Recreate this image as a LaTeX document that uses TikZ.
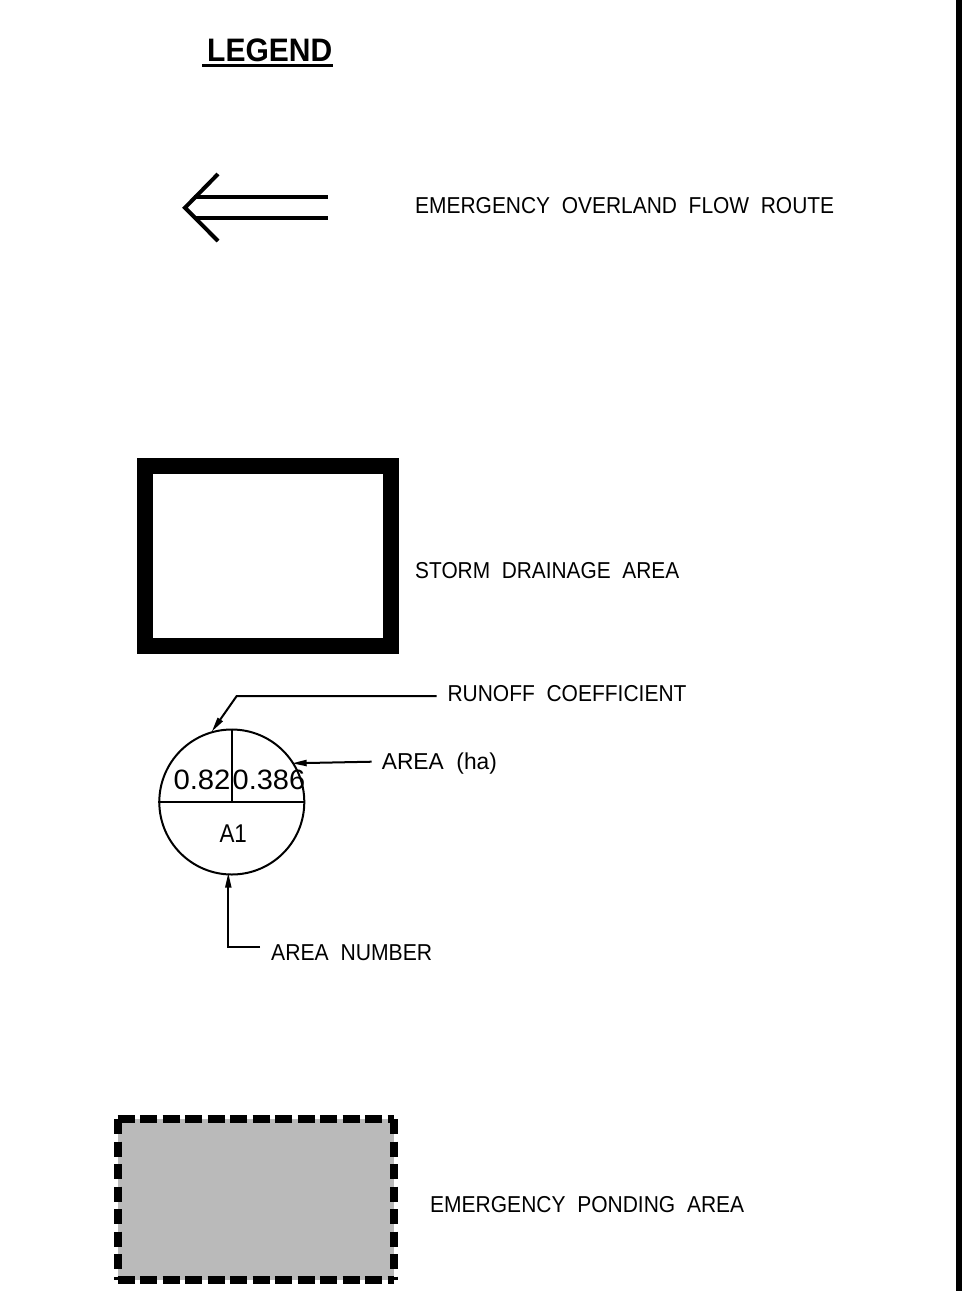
\documentclass[tikz,border=0pt]{standalone}
\usepackage{fontspec}
\setmainfont{Liberation Sans}
\usetikzlibrary{arrows.meta}
\definecolor{pondgray}{HTML}{BABABA}
\newcommand{\cadfit}[2]{\resizebox{#1}{\height}{#2}}
\begin{document}
\begin{tikzpicture}[x=1pt,y=-1pt,
  lbl/.style={anchor=base west, inner sep=0pt, font=\fontsize{23}{23}\selectfont},
  numlbl/.style={anchor=base west, inner sep=0pt, font=\fontsize{28}{28}\selectfont},
  thinline/.style={line width=2pt},
  leader/.style={line width=2pt, -{Triangle[length=15pt,width=6pt]}},
  flowline/.style={line width=4pt}]
\fill[white] (0,0) rectangle (970,1291);
\useasboundingbox (0,0) rectangle (970,1291);
% right border bar
\fill[black] (955.7,0) rectangle (962.3,1291);
% title
\node[anchor=base west, inner sep=0pt, font=\bfseries\fontsize{32.5}{32.5}\selectfont] (legend) at (207,61.7) {\cadfit{125pt}{LEGEND}};
\draw[line width=3pt] ([xshift=-5pt,yshift=-3.3pt]legend.south west) -- ([xshift=1pt,yshift=-3.3pt]legend.south east);
% overland flow arrow
\coordinate (fTip) at (185,207.7);
\coordinate (fBarbU) at (218,174);
\coordinate (fBarbL) at (218,241);
\coordinate (fU1) at (194.4,196.7);
\coordinate (fU2) at (327.7,196.7);
\coordinate (fL1) at (194,218.3);
\coordinate (fL2) at (327.7,218.3);
\draw[flowline] (fBarbU) -- (fTip) -- (fBarbL);
\draw[flowline] (fU1) -- (fU2);
\draw[flowline] (fL1) -- (fL2);
\node[lbl] (tFlow) at (415,213) {\cadfit{419pt}{EMERGENCY\ \ OVERLAND\ \ FLOW\ \ ROUTE}};
% storm drainage area
\draw[line width=16pt] (145,466.3) rectangle (391.3,646.3);
\node[lbl] (tStorm) at (415,578.5) {\cadfit{264pt}{STORM\ \ DRAINAGE\ \ AREA}};
% bubble
\node[circle, draw, line width=2pt, minimum size=145pt, inner sep=0pt] (bub) at (231.8,802) {};
\draw[thinline] (bub.west) -- (bub.east);
\draw[thinline] (bub.north) -- (bub.center);
\node[numlbl] (tC) at (173.3,789.3) {\cadfit{57pt}{0.82}};
\node[numlbl] (tArea) at (232.5,789.3) {\cadfit{72.5pt}{0.386}};
\node[anchor=base west, inner sep=0pt, font=\fontsize{25.7}{25.7}\selectfont] (tA1) at (219.3,842.7) {\cadfit{27.4pt}{A1}};
% leaders
\coordinate (rc1) at (436.7,696);
\coordinate (rc2) at (236.7,696);
\coordinate (rcTip) at (211.7,731.7);
\draw[leader] (rc1) -- (rc2) -- (rcTip);
\node[lbl] (tRunoff) at (447.3,701) {\cadfit{239pt}{RUNOFF\ \ COEFFICIENT}};
\coordinate (ha1) at (371.7,761.7);
\coordinate (haTip) at (291.7,763.3);
\draw[leader] (ha1) -- (haTip);
\node[lbl] (tHa) at (381.7,769.5) {\cadfit{115pt}{AREA\ \ (ha)}};
\coordinate (an1) at (260,946.7);
\coordinate (an2) at (228.3,946.7);
\coordinate (anTip) at (228.3,872.7);
\draw[leader] (an1) -- (an2) -- (anTip);
\node[lbl] (tNum) at (271,960.5) {\cadfit{161pt}{AREA\ \ NUMBER}};
% ponding area
\fill[pondgray] (117.5,1119) rectangle (393.5,1280);
\draw[line width=8pt, dash pattern=on 17pt off 5.5pt] (117.5,1119) -- (393.5,1119);
\draw[line width=8pt, dash pattern=on 17pt off 5.5pt] (117.5,1280) -- (393.5,1280);
\draw[line width=8pt, dash pattern=on 15pt off 7.5pt] (117.5,1119) -- (117.5,1280);
\draw[line width=8pt, dash pattern=on 15pt off 7.5pt] (393.5,1119) -- (393.5,1280);
\node[lbl] (tPond) at (430,1212.7) {\cadfit{314pt}{EMERGENCY\ \ PONDING\ \ AREA}};
\end{tikzpicture}
\end{document}
